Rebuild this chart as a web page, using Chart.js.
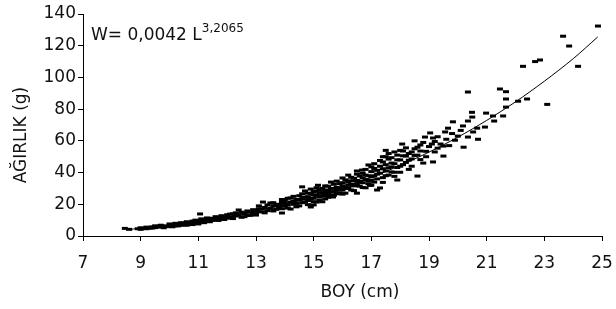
<!DOCTYPE html>
<html>
<head>
<meta charset="utf-8">
<script src="https://cdn.jsdelivr.net/npm/chart.js@4/dist/chart.umd.min.js"></script>
<style>
  html, body { margin: 0; padding: 0; background: #fff; }
  #wrap { width: 616px; height: 309px; }
</style>
</head>
<body>
<div id="wrap"><canvas id="boyAgirlik"></canvas></div>
<script>
// Olcumler [boy (cm), agirlik (g)]
const kucukBaliklar = [
  [8.45,4.8],[8.6,4.2],[8.9,4.6],[9.0,5.2],[9.1,4.8],[9.2,5.6],[9.3,5.0],[9.4,5.8],[9.5,5.3],[9.6,6.1],
  [9.7,5.6],[9.8,6.4],[9.9,5.9],[10.0,6.8],[10.0,6.0],[10.1,7.2],[10.2,6.4],[10.3,7.5],[10.4,6.8],[10.5,8.0],
  [10.5,7.0],[10.6,7.6],[10.7,8.4],[10.8,7.8],[10.9,8.8],[11.0,8.2],[11.0,9.6],[11.06,13.9],[11.1,9.0],[11.2,10.2],
  [11.3,9.4],[11.4,10.6],[11.5,9.8],[11.5,11.2],[11.6,10.4],[11.7,11.6],[11.8,10.8],[11.9,12.2],[12.0,11.2],[12.0,13.4],
  [12.1,12.0],[12.2,14.0],[12.3,12.6],[12.4,16.4],[12.4,13.4],[12.5,11.8],[12.6,14.2],[12.7,13.0],[12.8,15.0],[12.9,13.8],
  [13.0,16.0],[13.0,14.4],
  [9.0,4.2],[9.2,4.6],[9.4,5.0],[9.5,6.4],[9.7,6.8],[9.8,5.2],[10.0,7.6],[10.1,5.8],[10.2,8.0],[10.3,6.4],
  [10.4,8.4],[10.6,9.0],[10.6,6.8],[10.8,9.4],[10.8,7.2],[10.9,10.0],[11.0,7.6],[11.1,10.8],[11.2,8.4],[11.3,11.4],
  [11.4,9.0],[11.6,12.2],[11.7,9.8],[11.8,12.8],[11.9,10.4],[12.1,13.8],[12.2,11.0],[12.3,14.6],[12.5,15.0],[12.6,12.2],
  [12.7,15.8],[12.8,13.0],[12.9,16.6],[13.0,13.2]
];
const ortaBaliklar = [
  [13.1,17.2],[13.2,15.2],[13.24,21.4],[13.3,18.0],[13.4,16.0],[13.5,20.8],[13.5,17.4],[13.6,19.0],[13.7,16.8],[13.8,20.0],
  [13.8,18.0],[13.9,14.5],[13.9,21.4],[14.0,19.0],[14.0,22.4],[14.1,17.6],[14.2,21.4],[14.2,24.0],[14.3,20.0],[14.4,23.0],
  [14.4,18.4],[14.5,22.7],[14.5,25.4],[14.6,31],[14.6,21.0],[14.7,24.4],[14.8,27.0],[14.8,19.8],[14.9,18.3],[14.9,23.2],
  [15.0,26.0],[15.0,21.6],[15.1,28.4],[15.1,21.4],[15.15,32],[15.2,24.6],[15.3,27.4],[15.3,30.0],[15.4,23.4],[15.4,26.0],
  [15.5,29.0],[15.5,31.4],[15.6,25.0],[15.6,34],[15.67,24.6],[15.7,28.0],[15.8,30.6],[15.8,26.6],[15.9,33.0],[16.0,36.6],
  [16.0,29.0],[16.0,31.6],[16.1,27.0],[16.2,34.0],[16.2,30.4],[16.3,32.6],[16.3,37.0],[16.4,28.6],[16.5,27],[16.5,35.0],
  [16.5,39.0],[16.6,31.4],[16.68,41.6],[16.7,33.6],[16.7,36.6],[16.8,38.4],[16.8,30.4],[16.9,44.8],[16.9,35.0],[16.95,32],
  [17.0,40.6],[17.0,37.4],
  [13.1,19.0],[13.2,17.0],[13.3,14.6],[13.4,19.6],[13.6,21.0],[13.6,15.8],[13.7,19.2],[13.9,17.2],[13.9,23.0],[14.0,20.6],
  [14.1,23.8],[14.1,19.6],[14.2,17.0],[14.3,25.0],[14.3,22.0],[14.4,20.6],[14.5,19.0],[14.6,26.6],[14.6,23.6],[14.7,21.6],
  [14.7,28.4],[14.8,24.8],[14.8,22.4],[14.9,26.6],[14.9,29.6],[15.0,23.8],[15.0,28.0],[15.0,19.6],[15.1,25.6],[15.1,30.4],
  [15.2,22.6],[15.2,27.0],[15.2,29.0],[15.3,25.2],[15.3,21.6],[15.4,28.4],[15.4,31.6],[15.5,24.4],[15.5,26.8],[15.6,30.0],
  [15.6,27.6],[15.7,32.6],[15.7,25.6],[15.8,28.8],[15.8,34.6],[15.9,30.0],[15.9,27.2],[16.0,33.6],[16.0,26.4],[16.1,35.4],
  [16.1,30.0],[16.2,32.0],[16.2,38.4],[16.3,29.0],[16.3,34.8],[16.4,36.4],[16.4,31.6],[16.5,33.0],[16.5,41.0],[16.6,37.8],
  [16.6,34.4],[16.7,30.6],[16.7,39.6],[16.8,35.6],[16.8,42.0],[16.9,38.0],[16.9,33.0],[17.0,35.2],[17.0,43.6],[17.0,32.0]
];
const buyukBaliklar = [
  [17.1,34.0],[17.1,42.6],[17.2,29],[17.2,39.0],[17.3,30.3],[17.3,44.0],[17.4,46.7],[17.4,36.8],[17.4,50],[17.5,41.0],
  [17.5,54],[17.6,48.5],[17.6,38.4],[17.7,43.6],[17.7,46.0],[17.8,53],[17.8,40.2],[17.9,35.3],[17.9,48.0],[18.0,54],
  [18.0,44.0],[18.07,58],[18.1,50.6],[18.2,46.4],[18.3,52],[18.3,42.0],[18.4,48.6],[18.5,60],[18.5,55.0],[18.6,37.8],
  [18.6,51.0],[18.7,57.4],[18.8,46.0],[18.86,62.4],[18.9,53.4],[19.04,65],[19.1,58.0],[19.14,46.7],[19.14,61.8],[19.3,55.4],
  [19.5,50.4],[19.5,56.7],[19.56,65.6],[19.66,68],[19.83,72],[19.9,60.4],[20.18,69.4],[20.2,56],[20.35,62.4],[20.35,72.5],
  [20.35,90.8],[20.49,78],[20.5,75],[20.53,65.6],[20.67,68],[20.7,61],[20.94,68.7],[20.98,77.5],[21.22,75.7],[21.26,72.5],
  [21.46,92.7],[21.57,75.7],[21.67,91],[21.67,86.4],[21.67,81.3],[22.09,85],[22.26,107],[22.4,86.4],[22.68,110],[22.85,111],
  [23.1,83],[23.65,126],[23.86,119.8],[24.17,107],[24.86,132.4],
  [17.1,38.0],[17.1,45.6],[17.2,41.4],[17.2,36.0],[17.3,47.6],[17.3,39.6],[17.4,42.4],[17.4,33.8],[17.5,45.0],[17.5,38.0],
  [17.5,50.0],[17.6,43.0],[17.6,52.0],[17.7,40.4],[17.7,49.4],[17.8,45.6],[17.8,37.6],[17.9,51.0],[17.9,43.2],[18.0,48.0],
  [18.0,40.2],[18.1,53.6],[18.1,45.0],[18.2,50.4],[18.2,55.6],[18.3,47.8],[18.4,44.0],[18.4,53.0],[18.5,50.8],[18.6,56.0],
  [18.7,48.2],[18.7,53.6],[18.8,59.0],[18.9,50.0],[19.0,56.4],[19.2,59.6],[19.2,53.0],[19.3,62.6],[19.4,58.0],[19.6,61.0],
  [19.7,57.0],[19.8,64.6],[20.0,63.0],[20.1,66.6]
];

// egri (W = 0,0042 L^3,2065) grafikten okunan noktalar
const egriBoy      = [8.5, 9, 10, 11, 12, 13, 14, 15, 16, 17, 18, 19, 20, 21, 22, 23, 24, 24.85];
const egriAgirlik  = [4.0, 4.8, 6.8, 9.2, 12.1, 15.7, 19.9, 24.8, 30.5, 37.0, 44.5, 52.9, 62.3, 72.9, 84.6, 97.6, 111.8, 125.5];

const xTicks = [7, 9, 11, 13, 15, 17, 19, 21, 23, 25];
const yTicks = [0, 20, 40, 60, 80, 100, 120, 140];

const FONT = 'DejaVu Sans';
const toPts = arr => arr.map(p => ({ x: p[0], y: p[1] }));

// Eksen basliklari ve denklem
const yaziPlugin = {
  id: 'yazilar',
  afterDraw(chart) {
    const c = chart.ctx;
    c.save();
    c.fillStyle = '#111';
    c.font = '17px ' + FONT;
    c.textAlign = 'center';
    c.textBaseline = 'middle';
    c.fillText('BOY (cm)', 360, 293);
    c.translate(22, 135);
    c.rotate(-Math.PI / 2);
    c.fillText('AĞIRLIK (g)', 0, 0);
    c.restore();

    c.save();
    c.fillStyle = '#111';
    c.textBaseline = 'alphabetic';
    c.textAlign = 'left';
    c.font = '17px ' + FONT;
    const ana = 'W= 0,0042 L';
    c.fillText(ana, 91, 40);
    const w = c.measureText(ana).width;
    c.font = '12px ' + FONT;
    c.fillText('3,2065', 91 + w, 32);
    c.restore();
  }
};

new Chart(document.getElementById('boyAgirlik'), {
  type: 'scatter',
  data: {
    datasets: [
      {
        label: 'olcum',
        data: toPts(kucukBaliklar.concat(ortaBaliklar, buyukBaliklar)),
        pointStyle: 'line',
        pointRadius: 3,
        pointHoverRadius: 3,
        borderWidth: 3,
        borderColor: '#000',
        backgroundColor: '#000',
        order: 2
      },
      {
        label: 'egri',
        data: egriBoy.map((b, i) => ({ x: b, y: egriAgirlik[i] })),
        showLine: true,
        pointRadius: 0,
        borderWidth: 1,
        borderColor: '#000',
        tension: 0.3,
        order: 1
      }
    ]
  },
  options: {
    responsive: true,
    maintainAspectRatio: false,
    animation: false,
    events: [],
    layout: { padding: { left: 0, top: 14, right: 14, bottom: 0 } },
    plugins: { legend: { display: false }, tooltip: { enabled: false } },
    scales: {
      x: {
        type: 'linear',
        min: 7, max: 25,
        afterFit(s) { s.height = 73; s.paddingLeft = 0; s.paddingRight = 0; },
        afterBuildTicks(s) { s.ticks = xTicks.map(v => ({ value: v })); },
        border: { color: '#000', width: 1 },
        grid: { drawOnChartArea: false, tickLength: 5, color: '#000' },
        ticks: { color: '#111', font: { family: FONT, size: 17 }, padding: 12, maxRotation: 0 }
      },
      y: {
        min: 0, max: 140,
        afterFit(s) { s.width = 83; s.paddingTop = 0; s.paddingBottom = 0; },
        afterBuildTicks(s) { s.ticks = yTicks.map(v => ({ value: v })); },
        border: { color: '#000', width: 1 },
        grid: { drawOnChartArea: false, tickLength: 5, color: '#000' },
        ticks: { color: '#111', font: { family: FONT, size: 17 }, padding: 2 }
      }
    }
  },
  plugins: [yaziPlugin]
});
</script>
</body>
</html>
